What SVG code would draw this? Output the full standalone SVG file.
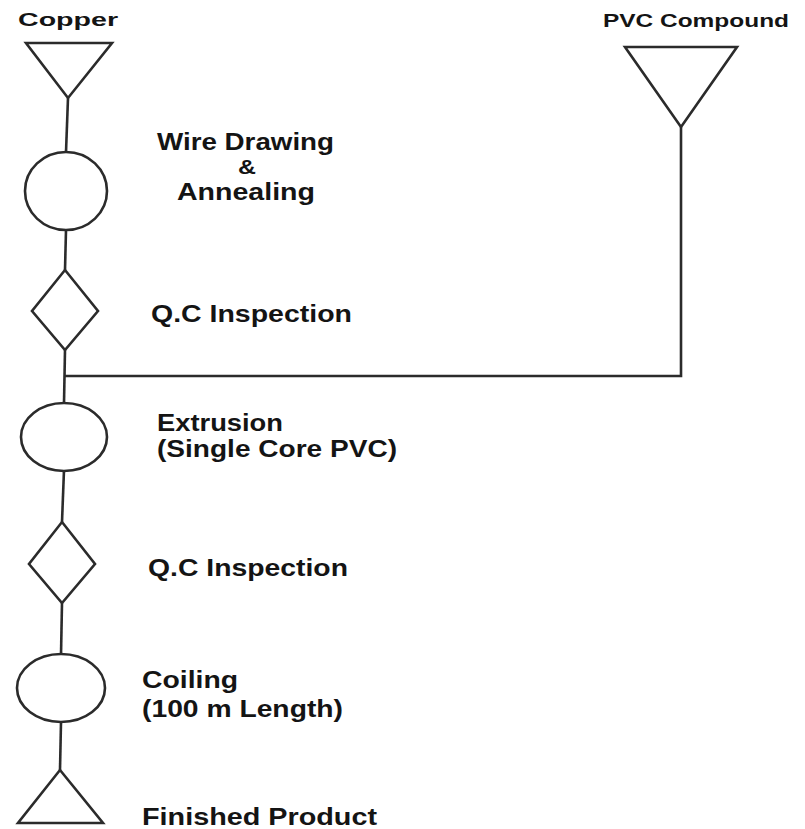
<svg xmlns="http://www.w3.org/2000/svg" width="805" height="829" viewBox="0 0 805 829">
<style>
.shape{fill:none;stroke:#2b2b2b;stroke-width:2.6;stroke-linejoin:miter}
.conn{fill:none;stroke:#2b2b2b;stroke-width:2.6}
.lbl{font-family:"Liberation Sans",Arial,sans-serif;font-weight:bold;fill:#141414}
.big{font-size:23.5px}
.small{font-size:19px}
</style>
<rect width="805" height="829" fill="#ffffff"/>
<g id="connectors">
<line class="conn" x1="68" y1="98" x2="66" y2="152"/>
<line class="conn" x1="66" y1="230" x2="65" y2="270"/>
<line class="conn" x1="65" y1="350" x2="64" y2="403"/>
<line class="conn" x1="64" y1="470" x2="62" y2="522"/>
<line class="conn" x1="62" y1="603" x2="61" y2="655"/>
<line class="conn" x1="61" y1="722" x2="60" y2="770"/>
<polyline class="conn" points="681,127 681,376 65,376"/>
</g>
<g id="copper">
<polygon class="shape" points="26,43 112,43 68,98"/>
<text class="lbl small" x="18" y="26" textLength="100" lengthAdjust="spacingAndGlyphs">Copper</text>
</g>
<g id="pvc-compound">
<polygon class="shape" points="625,47 737,47 681,127"/>
<text class="lbl small" x="603" y="27" textLength="186" lengthAdjust="spacingAndGlyphs">PVC Compound</text>
</g>
<g id="wire-drawing">
<ellipse class="shape" cx="66" cy="191" rx="41" ry="39"/>
<text class="lbl big" x="157" y="150" textLength="177" lengthAdjust="spacingAndGlyphs">Wire Drawing</text>
<text class="lbl" font-size="20" x="238" y="174" textLength="18" lengthAdjust="spacingAndGlyphs">&amp;</text>
<text class="lbl big" x="177" y="200" textLength="138" lengthAdjust="spacingAndGlyphs">Annealing</text>
</g>
<g id="qc-inspection-1">
<polygon class="shape" points="65,270 98,311 65,350 32,311"/>
<text class="lbl big" x="151" y="322" textLength="201" lengthAdjust="spacingAndGlyphs">Q.C Inspection</text>
</g>
<g id="extrusion">
<ellipse class="shape" cx="64" cy="437" rx="43" ry="34"/>
<text class="lbl big" x="157" y="431" textLength="126" lengthAdjust="spacingAndGlyphs">Extrusion</text>
<text class="lbl big" x="157" y="457" textLength="240" lengthAdjust="spacingAndGlyphs">(Single Core PVC)</text>
</g>
<g id="qc-inspection-2">
<polygon class="shape" points="62,522 95,564 62,603 29,564"/>
<text class="lbl big" x="148" y="576" textLength="200" lengthAdjust="spacingAndGlyphs">Q.C Inspection</text>
</g>
<g id="coiling">
<ellipse class="shape" cx="61" cy="688" rx="44" ry="34"/>
<text class="lbl big" x="142" y="688" textLength="96" lengthAdjust="spacingAndGlyphs">Coiling</text>
<text class="lbl big" x="142" y="717" textLength="201" lengthAdjust="spacingAndGlyphs">(100 m Length)</text>
</g>
<g id="finished-product">
<polygon class="shape" points="60,770 103,823 18,823"/>
<text class="lbl big" x="142" y="825" textLength="235" lengthAdjust="spacingAndGlyphs">Finished Product</text>
</g>
</svg>
